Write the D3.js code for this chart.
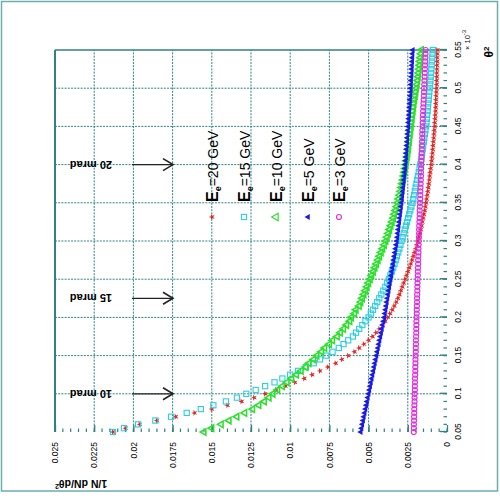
<!DOCTYPE html>
<html>
<head>
<meta charset="utf-8">
<script src="https://cdn.jsdelivr.net/npm/d3@7"></script>
<style>
  body { margin: 0; background: #fff; }
  svg { display: block; }
  text { font-family: Arial, "Liberation Sans", sans-serif; fill: #000; }
</style>
</head>
<body>
<svg id="chart" width="500" height="499"></svg>
<script>
// θ² bin centres (units of 10^-3 rad^2)
const thetaSq = [
  0.050,0.055,0.060,0.065,0.070,0.075,0.080,0.085,0.090,0.095,
  0.100,0.105,0.110,0.115,0.120,0.125,0.130,0.135,0.140,0.145,
  0.150,0.155,0.160,0.165,0.170,0.175,0.180,0.185,0.190,0.195,
  0.200,0.205,0.210,0.215,0.220,0.225,0.230,0.235,0.240,0.245,
  0.250,0.255,0.260,0.265,0.270,0.275,0.280,0.285,0.290,0.295,
  0.300,0.305,0.310,0.315,0.320,0.325,0.330,0.335,0.340,0.345,
  0.350,0.355,0.360,0.365,0.370,0.375,0.380,0.385,0.390,0.395,
  0.400,0.405,0.410,0.415,0.420,0.425,0.430,0.435,0.440,0.445,
  0.450,0.455,0.460,0.465,0.470,0.475,0.480,0.485,0.490,0.495,
  0.500,0.505,0.510,0.515,0.520,0.525,0.530,0.535,0.540,0.545,
  0.550
];

// 1/N dN/dθ² for each electron energy
const e20 = [
  0.0213,0.0205,0.0196,0.0185,0.0173,0.0161,0.0150,0.0140,0.0131,0.0123,
  0.0116,0.0109,0.0103,0.0097,0.0091,0.0086,0.0081,0.0076,0.0071,0.0067,
  0.0063,0.0059,0.0056,0.0053,0.0050,0.00475,0.00452,0.00431,0.00412,0.00394,
  0.00378,0.00363,0.00349,0.00336,0.00324,0.00313,0.00303,0.00294,0.00285,0.00276,
  0.00267,0.00258,0.00249,0.00240,0.00231,0.00223,0.00215,0.00207,0.00199,0.00192,
  0.00185,0.00179,0.00173,0.00167,0.00162,0.00157,0.00152,0.00147,0.00142,0.00138,
  0.00134,0.00130,0.00126,0.00122,0.00119,0.00116,0.00113,0.00110,0.00107,0.00104,
  0.00101,0.00098,0.00096,0.00093,0.00091,0.00089,0.00087,0.00085,0.00083,0.00081,
  0.00079,0.00078,0.00076,0.00075,0.00073,0.00072,0.00071,0.00070,0.00069,0.00068,
  0.00067,0.00066,0.00066,0.00065,0.00065,0.00064,0.00064,0.00063,0.00063,0.00062,
  0.00062
];
const e15 = [
  0.0213,0.0206,0.0197,0.0186,0.0176,0.0166,0.0157,0.0149,0.0141,0.0134,
  0.0128,0.0122,0.0116,0.0110,0.0105,0.0100,0.0095,0.0090,0.0085,0.0081,
  0.0077,0.0073,0.0069,0.0066,0.0063,0.0060,0.0058,0.0056,0.0054,0.0052,
  0.00500,0.00486,0.00472,0.00458,0.00445,0.00432,0.00419,0.00406,0.00393,0.00381,
  0.00370,0.00361,0.00352,0.00343,0.00335,0.00327,0.00319,0.00311,0.00304,0.00297,
  0.00290,0.00283,0.00276,0.00269,0.00262,0.00255,0.00248,0.00241,0.00234,0.00227,
  0.00220,0.00215,0.00210,0.00205,0.00200,0.00195,0.00190,0.00185,0.00180,0.00175,
  0.00170,0.00166,0.00162,0.00159,0.00155,0.00152,0.00148,0.00145,0.00141,0.00138,
  0.00134,0.00131,0.00129,0.00127,0.00124,0.00122,0.00120,0.00117,0.00115,0.00113,
  0.00110,0.00108,0.00106,0.00104,0.00102,0.00100,0.00098,0.00096,0.00094,0.00092,
  0.00090
];
const e10 = [
  0.0155,0.0150,0.0144,0.0139,0.0134,0.0129,0.0124,0.0120,0.01165,0.01135,
  0.0111,0.0108,0.0105,0.0102,0.0099,0.0096,0.0093,0.0090,0.0088,0.0085,
  0.0083,0.0080,0.0078,0.0075,0.0073,0.0070,0.0068,0.0066,0.0064,0.0062,
  0.0061,0.0059,0.0058,0.0056,0.0055,0.0054,0.0053,0.0052,0.0051,0.0050,
  0.0049,0.0048,0.0047,0.0046,0.0045,0.0044,0.0043,0.0042,0.0041,0.0040,
  0.0039,0.00382,0.00374,0.00366,0.00358,0.00350,0.00342,0.00335,0.00328,0.00321,
  0.00314,0.00308,0.00302,0.00296,0.00290,0.00285,0.00280,0.00275,0.00270,0.00266,
  0.00262,0.00258,0.00254,0.00250,0.00247,0.00244,0.00241,0.00238,0.00235,0.00232,
  0.00229,0.00226,0.00223,0.00220,0.00217,0.00214,0.00211,0.00207,0.00203,0.00199,
  0.00195,0.00191,0.00187,0.00184,0.00181,0.00178,0.00175,0.00172,0.00169,0.00166,
  0.00163
];
const e5 = [
  0.00550,0.00545,0.00540,0.00535,0.00530,0.00525,0.00520,0.00515,0.00510,0.00505,
  0.00500,0.00495,0.00490,0.00485,0.00480,0.00475,0.00470,0.00465,0.00460,0.00455,
  0.00450,0.00445,0.00440,0.00435,0.00430,0.00425,0.00420,0.00415,0.00410,0.00405,
  0.00400,0.00396,0.00392,0.00388,0.00384,0.00380,0.00376,0.00372,0.00368,0.00364,
  0.00360,0.00356,0.00352,0.00348,0.00344,0.00340,0.00336,0.00332,0.00328,0.00324,
  0.00320,0.00317,0.00314,0.00311,0.00308,0.00305,0.00302,0.00299,0.00296,0.00293,
  0.00290,0.00287,0.00285,0.00282,0.00280,0.00277,0.00275,0.00272,0.00270,0.00267,
  0.00265,0.00263,0.00261,0.00260,0.00258,0.00256,0.00254,0.00253,0.00251,0.00249,
  0.00247,0.00246,0.00244,0.00242,0.00241,0.00239,0.00237,0.00236,0.00234,0.00232,
  0.00231,0.00230,0.00229,0.00227,0.00226,0.00225,0.00224,0.00222,0.00221,0.00220,
  0.00218
];
const e3 = [
  0.00212,0.00211,0.00211,0.00210,0.00210,0.00209,0.00209,0.00208,0.00207,0.00207,
  0.00206,0.00205,0.00205,0.00204,0.00204,0.00203,0.00202,0.00202,0.00201,0.00201,
  0.00200,0.00199,0.00199,0.00198,0.00198,0.00197,0.00196,0.00196,0.00195,0.00195,
  0.00194,0.00193,0.00193,0.00192,0.00191,0.00191,0.00190,0.00189,0.00189,0.00188,
  0.00187,0.00186,0.00186,0.00185,0.00184,0.00184,0.00183,0.00182,0.00182,0.00181,
  0.00180,0.00179,0.00178,0.00178,0.00177,0.00176,0.00175,0.00174,0.00174,0.00173,
  0.00172,0.00171,0.00170,0.00170,0.00169,0.00168,0.00167,0.00166,0.00166,0.00165,
  0.00164,0.00163,0.00162,0.00162,0.00161,0.00160,0.00159,0.00158,0.00158,0.00157,
  0.00156,0.00155,0.00154,0.00153,0.00152,0.00151,0.00150,0.00149,0.00148,0.00147,
  0.00146,0.00145,0.00144,0.00143,0.00142,0.00141,0.00140,0.00139,0.00138,0.00137,
  0.00136
];

const energyLabels = ["20 GeV", "15 GeV", "10 GeV", "5 GeV", "3 GeV"];
const seriesValues = [e20, e15, e10, e5, e3];
const seriesColors = ["#e02828", "#2ccfe0", "#2ee02e", "#1a1ae6", "#e030e0"];

const xTickValues = [0.05,0.1,0.15,0.2,0.25,0.3,0.35,0.4,0.45,0.5,0.55];
const xTickLabels = ["0.05","0.1","0.15","0.2","0.25","0.3","0.35","0.4","0.45","0.5","0.55"];
const yTickValues = [0,0.0025,0.005,0.0075,0.01,0.0125,0.015,0.0175,0.02,0.0225,0.025];
const yTickLabels = ["0","0.0025","0.005","0.0075","0.01","0.0125","0.015","0.0175","0.02","0.0225","0.025"];

// scattering-angle markers
const angleLabels = ["10 mrad", "15 mrad", "20 mrad"];
const angleTheta2 = [0.1, 0.225, 0.4];

const teal = "#2f8283";
const svg = d3.select("#chart");

// page border
svg.append("rect")
  .attr("x", 1.5).attr("y", 1.5).attr("width", 496).attr("height", 489.5)
  .attr("fill", "#fff").attr("stroke", "#6aaeb0").attr("stroke-width", 1.5);

// the whole plot is laid out in its own frame and turned a quarter turn
const W = 382, H = 392;
const g = svg.append("g").attr("transform", "translate(55,432) rotate(-90)");

const x = d3.scaleLinear().domain([0.05, 0.55]).range([0, W]);
const y = d3.scaleLinear().domain([0, 0.025]).range([H, 0]);

// grid
g.append("g").selectAll("line").data(xTickValues.slice(1, -1)).join("line")
  .attr("x1", d => x(d)).attr("x2", d => x(d)).attr("y1", 0).attr("y2", H)
  .attr("stroke", teal).attr("stroke-width", 1).attr("stroke-dasharray", "2,1.2");
g.append("g").selectAll("line").data(yTickValues.slice(1, -1)).join("line")
  .attr("x1", 0).attr("x2", W).attr("y1", d => y(d)).attr("y2", d => y(d))
  .attr("stroke", teal).attr("stroke-width", 1).attr("stroke-dasharray", "2,1.2");

// frame edges
g.append("line").attr("x1", 0).attr("x2", W).attr("y1", 0).attr("y2", 0)
  .attr("stroke", teal).attr("stroke-width", 2);
g.append("line").attr("x1", W).attr("x2", W).attr("y1", 0).attr("y2", H)
  .attr("stroke", teal).attr("stroke-width", 1.5);

// θ² axis
const xAxis = g.append("g").attr("transform", `translate(0,${H})`)
  .call(d3.axisBottom(x).tickValues(xTickValues)
    .tickFormat((d, i) => xTickLabels[i]).tickSizeInner(-7).tickSizeOuter(0).tickPadding(8));
xAxis.select(".domain").remove();
xAxis.selectAll(".tick line").attr("stroke", teal).attr("stroke-width", 1.3);
xAxis.selectAll("text").attr("font-size", 8.5).attr("fill", "#111");
g.append("g").selectAll("line").data(x.ticks(50)).join("line")
  .attr("x1", d => x(d)).attr("x2", d => x(d)).attr("y1", H).attr("y2", H - 3.5)
  .attr("stroke", teal).attr("stroke-width", 1.2);

// 1/N dN/dθ² axis
const yAxis = g.append("g")
  .call(d3.axisLeft(y).tickValues(yTickValues)
    .tickFormat((d, i) => yTickLabels[i]).tickSizeInner(-7).tickSizeOuter(0).tickPadding(10));
yAxis.select(".domain").remove();
yAxis.selectAll(".tick line").attr("stroke", teal).attr("stroke-width", 1.3);
yAxis.selectAll("text").attr("font-size", 8.5).attr("fill", "#111");
g.append("g").selectAll("line").data(y.ticks(50)).join("line")
  .attr("x1", 0).attr("x2", 3.5).attr("y1", d => y(d)).attr("y2", d => y(d))
  .attr("stroke", teal).attr("stroke-width", 1.2);

// axis titles
const yTitle = g.append("text")
  .attr("transform", "translate(-52,0) rotate(-90)")
  .attr("text-anchor", "end").attr("dy", "0.35em")
  .attr("font-size", 10.5).attr("font-weight", "bold");
yTitle.append("tspan").text("1/N dN/d\u03b8");
yTitle.append("tspan").attr("font-size", 7).attr("dy", "-0.5em").text("2");

const xTitle = g.append("text")
  .attr("x", W - 2).attr("y", H + 42).attr("text-anchor", "middle").attr("dy", "0.35em")
  .attr("font-size", 12).attr("font-weight", "bold");
xTitle.append("tspan").text("\u03b8");
xTitle.append("tspan").attr("font-size", 8).attr("dy", "-0.5em").text("2");

const scaleNote = g.append("text")
  .attr("x", W).attr("y", H + 23).attr("font-size", 7.5);
scaleNote.append("tspan").text("\u00d7 10");
scaleNote.append("tspan").attr("font-size", 6).attr("dy", "-0.6em").text("-3");

// angle annotations
angleTheta2.forEach((t, i) => {
  const px = x(t);
  g.append("text")
    .attr("transform", `translate(${px},57) rotate(-90)`)
    .attr("dy", "0.35em").attr("font-size", 11).attr("font-weight", "bold").attr("fill", "#222")
    .text(angleLabels[i]);
  g.append("line").attr("x1", px).attr("x2", px).attr("y1", 77).attr("y2", 118)
    .attr("stroke", "#222").attr("stroke-width", 1.2);
  g.append("path").attr("d", `M${px - 6},108 L${px},118 L${px + 6},108`)
    .attr("fill", "none").attr("stroke", "#222").attr("stroke-width", 1.6);
});

// markers
function drawMarker(sel, k, inLegend) {
  const c = seriesColors[k];
  if (k === 0) {
    sel.append("path").attr("d", d3.symbol(d3.symbolStar, 12)()).attr("fill", c);
  } else if (k === 1) {
    sel.append("rect").attr("x", -2.6).attr("y", -2.6).attr("width", 5.2).attr("height", 5.2)
      .attr("fill", "none").attr("stroke", c).attr("stroke-width", 1.1);
  } else if (k === 2) {
    sel.append("path").attr("d", d3.symbol(d3.symbolTriangle, inLegend ? 24 : 18)())
      .attr("fill", "none").attr("stroke", c).attr("stroke-width", inLegend ? 1.2 : 1.6);
  } else if (k === 3) {
    sel.append("path").attr("d", d3.symbol(d3.symbolTriangle, 16)()).attr("fill", c);
  } else {
    sel.append("circle").attr("r", 2.5).attr("fill", "none").attr("stroke", c).attr("stroke-width", 1.2);
  }
}

seriesValues.forEach((vals, k) => {
  const layer = g.append("g");
  vals.forEach((v, i) => {
    const m = layer.append("g").attr("transform", `translate(${x(thetaSq[i])},${y(v)})`);
    drawMarker(m, k, false);
  });
});

// legend
const legendRowY = [157, 189, 221, 253, 284];
energyLabels.forEach((lab, k) => {
  const m = g.append("g").attr("transform", `translate(215,${legendRowY[k]})`);
  drawMarker(m, k, true);
  const t = g.append("text").attr("x", 230).attr("y", legendRowY[k] + 6).attr("font-size", 14);
  t.append("tspan").attr("font-weight", "bold").attr("font-size", 16).text("E");
  t.append("tspan").attr("font-weight", "bold").attr("font-size", 9).attr("dy", 3).text("e");
  t.append("tspan").attr("dy", -3).text("=" + lab);
});
</script>
</body>
</html>
